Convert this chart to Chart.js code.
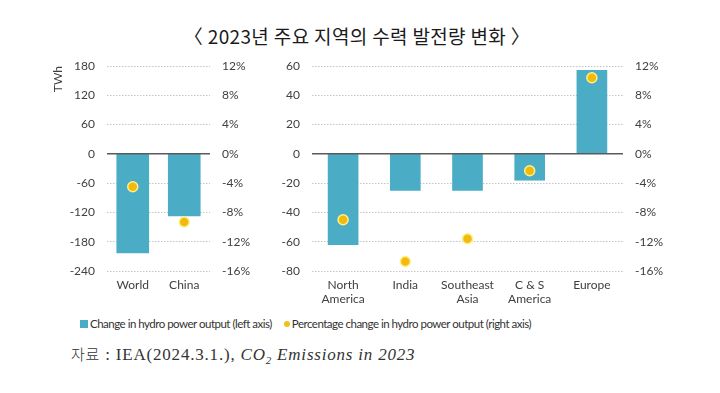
<!DOCTYPE html>
<html>
<head>
<meta charset="utf-8">
<script src="https://cdn.jsdelivr.net/npm/chart.js@4/dist/chart.umd.min.js"></script>
<style>
  html,body{margin:0;padding:0;background:#fff;}
  body{width:720px;height:393px;position:relative;overflow:hidden;}
  #title{position:absolute;left:0;top:23px;width:714px;text-align:center;font-family:"Noto Sans CJK KR",sans-serif;font-size:19px;letter-spacing:0.35px;color:#1a1a1a;line-height:26px;}
  #c1{position:absolute;left:40px;top:50px;}
  #c2{position:absolute;left:260px;top:50px;}
  #legend{position:absolute;left:80px;top:316px;font-family:Lato,"Open Sans",sans-serif;font-size:11.5px;color:#333;white-space:nowrap;line-height:16px;letter-spacing:-0.5px;}
  #legend .sq{display:inline-block;width:8px;height:8px;background:#4BACC6;margin-right:2px;vertical-align:-0px;}
  #legend .dot{display:inline-block;width:6px;height:6px;border-radius:50%;background:#F2C01A;margin:0 2px 0 12px;vertical-align:1px;}
  #source{position:absolute;left:71px;top:343px;font-family:"Liberation Serif",serif;font-size:17px;letter-spacing:0.8px;color:#333;white-space:nowrap;line-height:22px;}
  #source .ko{font-family:"Noto Sans CJK KR",sans-serif;font-size:15px;font-weight:300;}
</style>
</head>
<body>
<div id="title">〈 2023년 주요 지역의 수력 발전량 변화 〉</div>
<canvas id="c1" width="220" height="260"></canvas>
<canvas id="c2" width="460" height="260"></canvas>
<div id="legend"><span class="sq"></span>Change in hydro power output (left axis)<span class="dot"></span>Percentage change in hydro power output (right axis)</div>
<div id="source"><span class="ko">자료</span> : IEA(2024.3.1.), <i>CO<sub style="font-size:11px">2</sub> Emissions in 2023</i></div>
<script>
// ---- data ----
const leftCategories = ['World', 'China'];
const leftOutputTWh = [-203, -127];
const leftChangePct = [-4.5, -9.3];

const rightCategories = [['North', 'America'], 'India', ['Southeast', 'Asia'], ['C & S', 'America'], 'Europe'];
const rightOutputTWh = [-62, -25, -25, -18, 57];
const rightChangePct = [-9.0, -14.7, -11.6, -2.3, 10.4];

const leftAxisRange = {min: -240, max: 180, step: 60};
const rightAxisRange = {min: -80, max: 60, step: 20};
const pctAxisRange = {min: -16, max: 12, step: 4};

// ---- styling ----
const BAR = '#4BACC6';
const DOT = '#F2B90F';
const DOT_BORDER = '#FFF08A';
const TICK_FONT = {family: 'Lato, "Open Sans", sans-serif', size: 12};
const TICK_COLOR = '#404040';

const zeroLine = {
  id: 'zeroLine',
  afterDatasetsDraw(chart) {
    const y = chart.scales.y.getPixelForValue(0);
    const a = chart.chartArea;
    const ctx = chart.ctx;
    ctx.save();
    ctx.strokeStyle = '#5a5a5a';
    ctx.lineWidth = 1.5;
    ctx.beginPath();
    ctx.moveTo(a.left, y);
    ctx.lineTo(a.right, y);
    ctx.stroke();
    ctx.restore();
  }
};

function makeChart(id, cats, twh, pct, range, barThick, leftW, rightW, showTitle) {
  return new Chart(document.getElementById(id), {
    type: 'bar',
    data: {
      labels: cats,
      datasets: [
        {
          type: 'line',
          label: 'Percentage change in hydro power output (right axis)',
          data: pct,
          yAxisID: 'y2',
          showLine: false,
          pointRadius: 5,
          pointHoverRadius: 5,
          pointBackgroundColor: DOT,
          pointBorderColor: DOT_BORDER,
          pointBorderWidth: 1.5,
          order: 0
        },
        {
          type: 'bar',
          label: 'Change in hydro power output (left axis)',
          data: twh,
          yAxisID: 'y',
          backgroundColor: BAR,
          borderWidth: 0,
          barThickness: barThick,
          order: 1
        }
      ]
    },
    options: {
      responsive: false,
      animation: false,
      layout: {padding: {top: 16, bottom: 0, left: 0, right: 0}},
      plugins: {legend: {display: false}, tooltip: {enabled: false}},
      scales: {
        x: {
          grid: {display: false, drawTicks: false},
          border: {display: false},
          ticks: {font: TICK_FONT, color: TICK_COLOR, padding: 7, maxRotation: 0, autoSkip: false},
          afterFit(s) { s.height = 39; }
        },
        y: {
          position: 'left',
          min: range.min, max: range.max,
          ticks: {stepSize: range.step, font: TICK_FONT, color: TICK_COLOR, padding: 3},
          grid: {color: '#c4c4c4', lineWidth: 1, drawTicks: true, tickLength: 9, tickColor: 'rgba(0,0,0,0)'},
          border: {display: false, dash: [1.5, 1.5]},
          title: {display: showTitle, text: 'TWh', align: 'end', font: TICK_FONT, color: TICK_COLOR, padding: {top: 11, bottom: 0}},
          afterFit(s) { s.width = leftW; }
        },
        y2: {
          position: 'right',
          min: pctAxisRange.min, max: pctAxisRange.max,
          ticks: {stepSize: pctAxisRange.step, font: TICK_FONT, color: TICK_COLOR, padding: 3, callback: v => v + '%'},
          grid: {display: false, drawOnChartArea: false, drawTicks: true, tickLength: 9, tickColor: 'rgba(0,0,0,0)'},
          border: {display: false},
          afterFit(s) { s.width = rightW; }
        }
      }
    },
    plugins: [zeroLine]
  });
}

makeChart('c1', leftCategories, leftOutputTWh, leftChangePct, leftAxisRange, 32, 67, 50, true);
makeChart('c2', rightCategories, rightOutputTWh, rightChangePct, rightAxisRange, 30, 52, 97, false);
</script>
</body>
</html>
